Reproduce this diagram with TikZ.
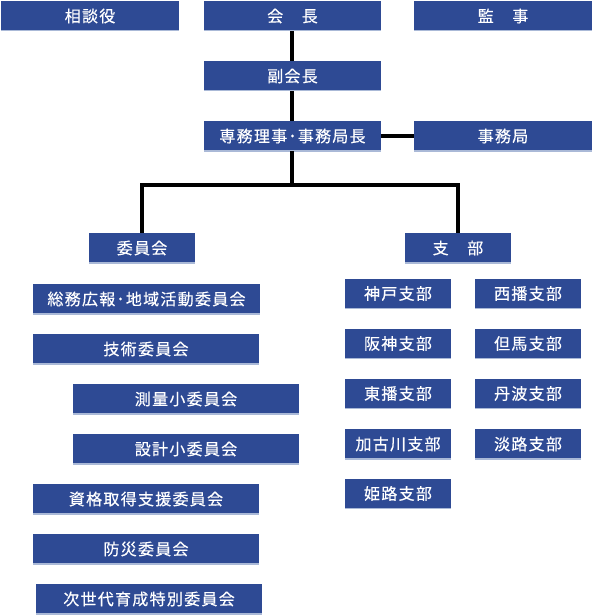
\documentclass[tikz,border=0pt]{standalone}
\usepackage{fontspec}
\newfontfamily\jp[LetterSpace=8,FakeBold=0.4]{Noto Sans CJK JP}
\definecolor{boxblue}{RGB}{46,74,148}
\definecolor{edgeblue}{RGB}{170,185,215}
\begin{document}
\begin{tikzpicture}[x=1pt,y=-1pt,
  box/.style={fill=boxblue, text=white, inner sep=0pt, minimum height=30pt,
    font=\jp\fontsize{16}{16}\selectfont,
    path picture={\draw[edgeblue,line width=1.2pt] (path picture bounding box.south west) -- (path picture bounding box.south east);}},
  wide/.style={box, minimum width=178pt},
  mid/.style={box, minimum width=226pt},
  small/.style={box, minimum width=106pt},
  conn/.style={line width=4pt, black}]
\useasboundingbox (0,0) rectangle (593,615);
% top level
\node[wide] (sodan) at (90,16) {相談役};
\node[wide, minimum width=177pt] (kaicho) at (292.5,16) {会　長};
\node[wide] (kansa) at (503,16) {監　事};
\node[wide, minimum width=177pt] (fuku) at (292.5,76) {副会長};
\node[wide, minimum width=177pt] (senmu) at (292.5,136) {専務理事･事務局長};
\node[wide] (jimu) at (503,136) {事務局};
% second level
\node[small] (iin) at (142,248) {委員会};
\node[small] (shibu) at (458,248) {支　部};
% committees
\node[mid, minimum width=227pt] (somu) at (146.5,299) {総務広報･地域活動委員会};
\node[mid] (gijutsu) at (146,349) {技術委員会};
\node[mid] (sokuryo) at (186,399) {測量小委員会};
\node[mid] (sekkei) at (186,449) {設計小委員会};
\node[mid] (shikaku) at (146,499) {資格取得支援委員会};
\node[mid] (bosai) at (146,549) {防災委員会};
\node[mid] (jisedai) at (149,599) {次世代育成特別委員会};
% branches
\node[small] (kobe) at (398,293.5) {神戸支部};
\node[small] (seiban) at (528,293.5) {西播支部};
\node[small] (hanshin) at (398,343.5) {阪神支部};
\node[small] (tajima) at (528,343.5) {但馬支部};
\node[small] (toban) at (398,393.5) {東播支部};
\node[small] (tanba) at (528,393.5) {丹波支部};
\node[small] (kakogawa) at (398,444) {加古川支部};
\node[small] (awaji) at (528,444) {淡路支部};
\node[small] (himeji) at (398,493.5) {姫路支部};
% connectors
\coordinate (j) at (291.5,185);
\draw[conn] (kaicho.south -| j) -- (fuku.north -| j);
\draw[conn] (fuku.south -| j) -- (senmu.north -| j);
\draw[conn] (senmu.east) -- (jimu.west);
\draw[conn] (senmu.south -| j) -- (j);
\draw[conn] (j) -| (iin.north);
\draw[conn] (j) -| (shibu.north);
\end{tikzpicture}
\end{document}
